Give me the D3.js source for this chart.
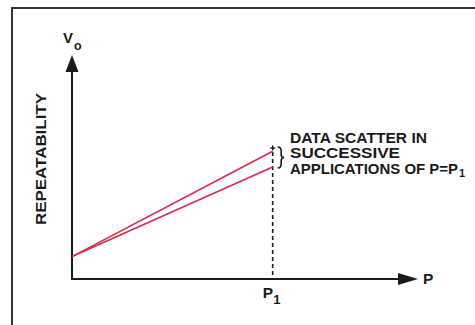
<!DOCTYPE html>
<html><head><meta charset="utf-8">
<script src="https://cdn.jsdelivr.net/npm/d3@7"></script>
<style>body{margin:0;background:#fff}svg{display:block}</style>
</head><body>
<svg id="c" width="475" height="325"></svg>
<script>
// Data (schematic values)
const pValues = [0, 58];          // P from origin to P1
const upperRun = [10, 57];        // Vo, one application
const lowerRun = [10, 50];        // Vo, another application
const p1Value = 58;
const scatterTop = 58.5;
const noteLines = ["DATA SCATTER IN", "SUCCESSIVE", "APPLICATIONS OF P=P"];
const yTitle = "REPEATABILITY";

const svg = d3.select("#c");
const x = d3.scaleLinear().domain([0, 100]).range([72, 418]);
const y = d3.scaleLinear().domain([0, 100]).range([279, 55]);
const font = "'Liberation Sans Narrow','Liberation Sans',Arial,sans-serif";

// frame (cut off at right and bottom)
svg.append("path").attr("d", "M12,330 L12,8 L480,8")
  .attr("fill", "none").attr("stroke", "#333").attr("stroke-width", 2);

// axes
const ax = "#1a1a1a";
svg.append("line").attr("x1", x(0)).attr("x2", x(100) - 14).attr("y1", y(0)).attr("y2", y(0))
  .attr("stroke", ax).attr("stroke-width", 2);
svg.append("line").attr("x1", x(0)).attr("x2", x(0)).attr("y1", y(0) + 1).attr("y2", y(100) + 12)
  .attr("stroke", ax).attr("stroke-width", 2);
svg.append("path").attr("d", `M${x(100)},${y(0)} L${x(100) - 20},${y(0) - 6} L${x(100) - 20},${y(0) + 6} Z`).attr("fill", ax);
svg.append("path").attr("d", `M${x(0)},${y(100)} L${x(0) - 6.5},${y(100) + 17} L${x(0) + 6.5},${y(100) + 17} Z`).attr("fill", ax);

// dashed P1 line
svg.append("line").attr("x1", x(p1Value)).attr("x2", x(p1Value)).attr("y1", y(scatterTop) + 4).attr("y2", y(0))
  .attr("stroke", ax).attr("stroke-width", 1.6).attr("stroke-dasharray", "4,3");
// small cross
svg.append("line").attr("x1", x(p1Value) - 2.5).attr("x2", x(p1Value) + 2.5).attr("y1", y(scatterTop)).attr("y2", y(scatterTop))
  .attr("stroke", ax).attr("stroke-width", 1.4);
svg.append("line").attr("x1", x(p1Value)).attr("x2", x(p1Value)).attr("y1", y(scatterTop) - 2.5).attr("y2", y(scatterTop) + 2.5)
  .attr("stroke", ax).attr("stroke-width", 1.4);

// data lines
const line = d3.line().x((d, i) => x(pValues[i])).y(d => y(d));
[upperRun, lowerRun].forEach(run => {
  svg.append("path").datum(run).attr("d", line).attr("fill", "none")
    .attr("stroke", "#d42a4e").attr("stroke-width", 1.6);
});

// brace
const bx = x(p1Value) + 5, bt = y(scatterTop) - 1, bb = y(lowerRun[1]) + 1, bm = (bt + bb) / 2;
svg.append("path")
  .attr("d", `M${bx},${bt} Q${bx + 3.5},${bt} ${bx + 3.5},${bt + 4} L${bx + 3.5},${bm - 3} Q${bx + 3.5},${bm} ${bx + 6.5},${bm} Q${bx + 3.5},${bm} ${bx + 3.5},${bm + 3} L${bx + 3.5},${bb - 4} Q${bx + 3.5},${bb} ${bx},${bb}`)
  .attr("fill", "none").attr("stroke", ax).attr("stroke-width", 1.6);

// note text
const widths = [137, 110, 168];
noteLines.forEach((t, i) => {
  svg.append("text").attr("x", 290).attr("y", 142.5 + i * 15.5)
    .attr("font-family", font).attr("font-weight", "bold").attr("font-size", 14.5).attr("fill", "#1a1a1a")
    .attr("textLength", widths[i]).attr("lengthAdjust", "spacingAndGlyphs").text(t);
  if (i === 2) {
    svg.append("text").attr("x", 290 + widths[i] + 1).attr("y", 142.5 + i * 15.5 + 3)
      .attr("font-family", font).attr("font-weight", "bold").attr("font-size", 11).attr("fill", "#1a1a1a").text("1");
  }
});

// axis labels
svg.append("text").attr("x", 63).attr("y", 43).attr("font-family", font).attr("font-weight", "bold")
  .attr("font-size", 15).attr("fill", "#1a1a1a").text("V");
svg.append("text").attr("x", 74).attr("y", 50).attr("font-family", font).attr("font-weight", "bold")
  .attr("font-size", 12.5).attr("fill", "#1a1a1a").text("o");

svg.append("text").attr("x", 423).attr("y", 284).attr("font-family", font).attr("font-weight", "bold")
  .attr("font-size", 15.5).attr("fill", "#1a1a1a").text("P");

svg.append("text").attr("x", x(p1Value) - 10).attr("y", 297.5).attr("font-family", font).attr("font-weight", "bold")
  .attr("font-size", 15.5).attr("fill", "#1a1a1a").text("P");
svg.append("text").attr("x", x(p1Value) + 0.5).attr("y", 303.5).attr("font-family", font).attr("font-weight", "bold")
  .attr("font-size", 13).attr("fill", "#1a1a1a").text("1");

svg.append("text").attr("transform", "translate(46,159) rotate(-90)").attr("text-anchor", "middle")
  .attr("font-family", font).attr("font-weight", "bold").attr("font-size", 15.5).attr("fill", "#1a1a1a")
  .attr("textLength", 132).attr("lengthAdjust", "spacingAndGlyphs").text(yTitle);
</script>
</body></html>
